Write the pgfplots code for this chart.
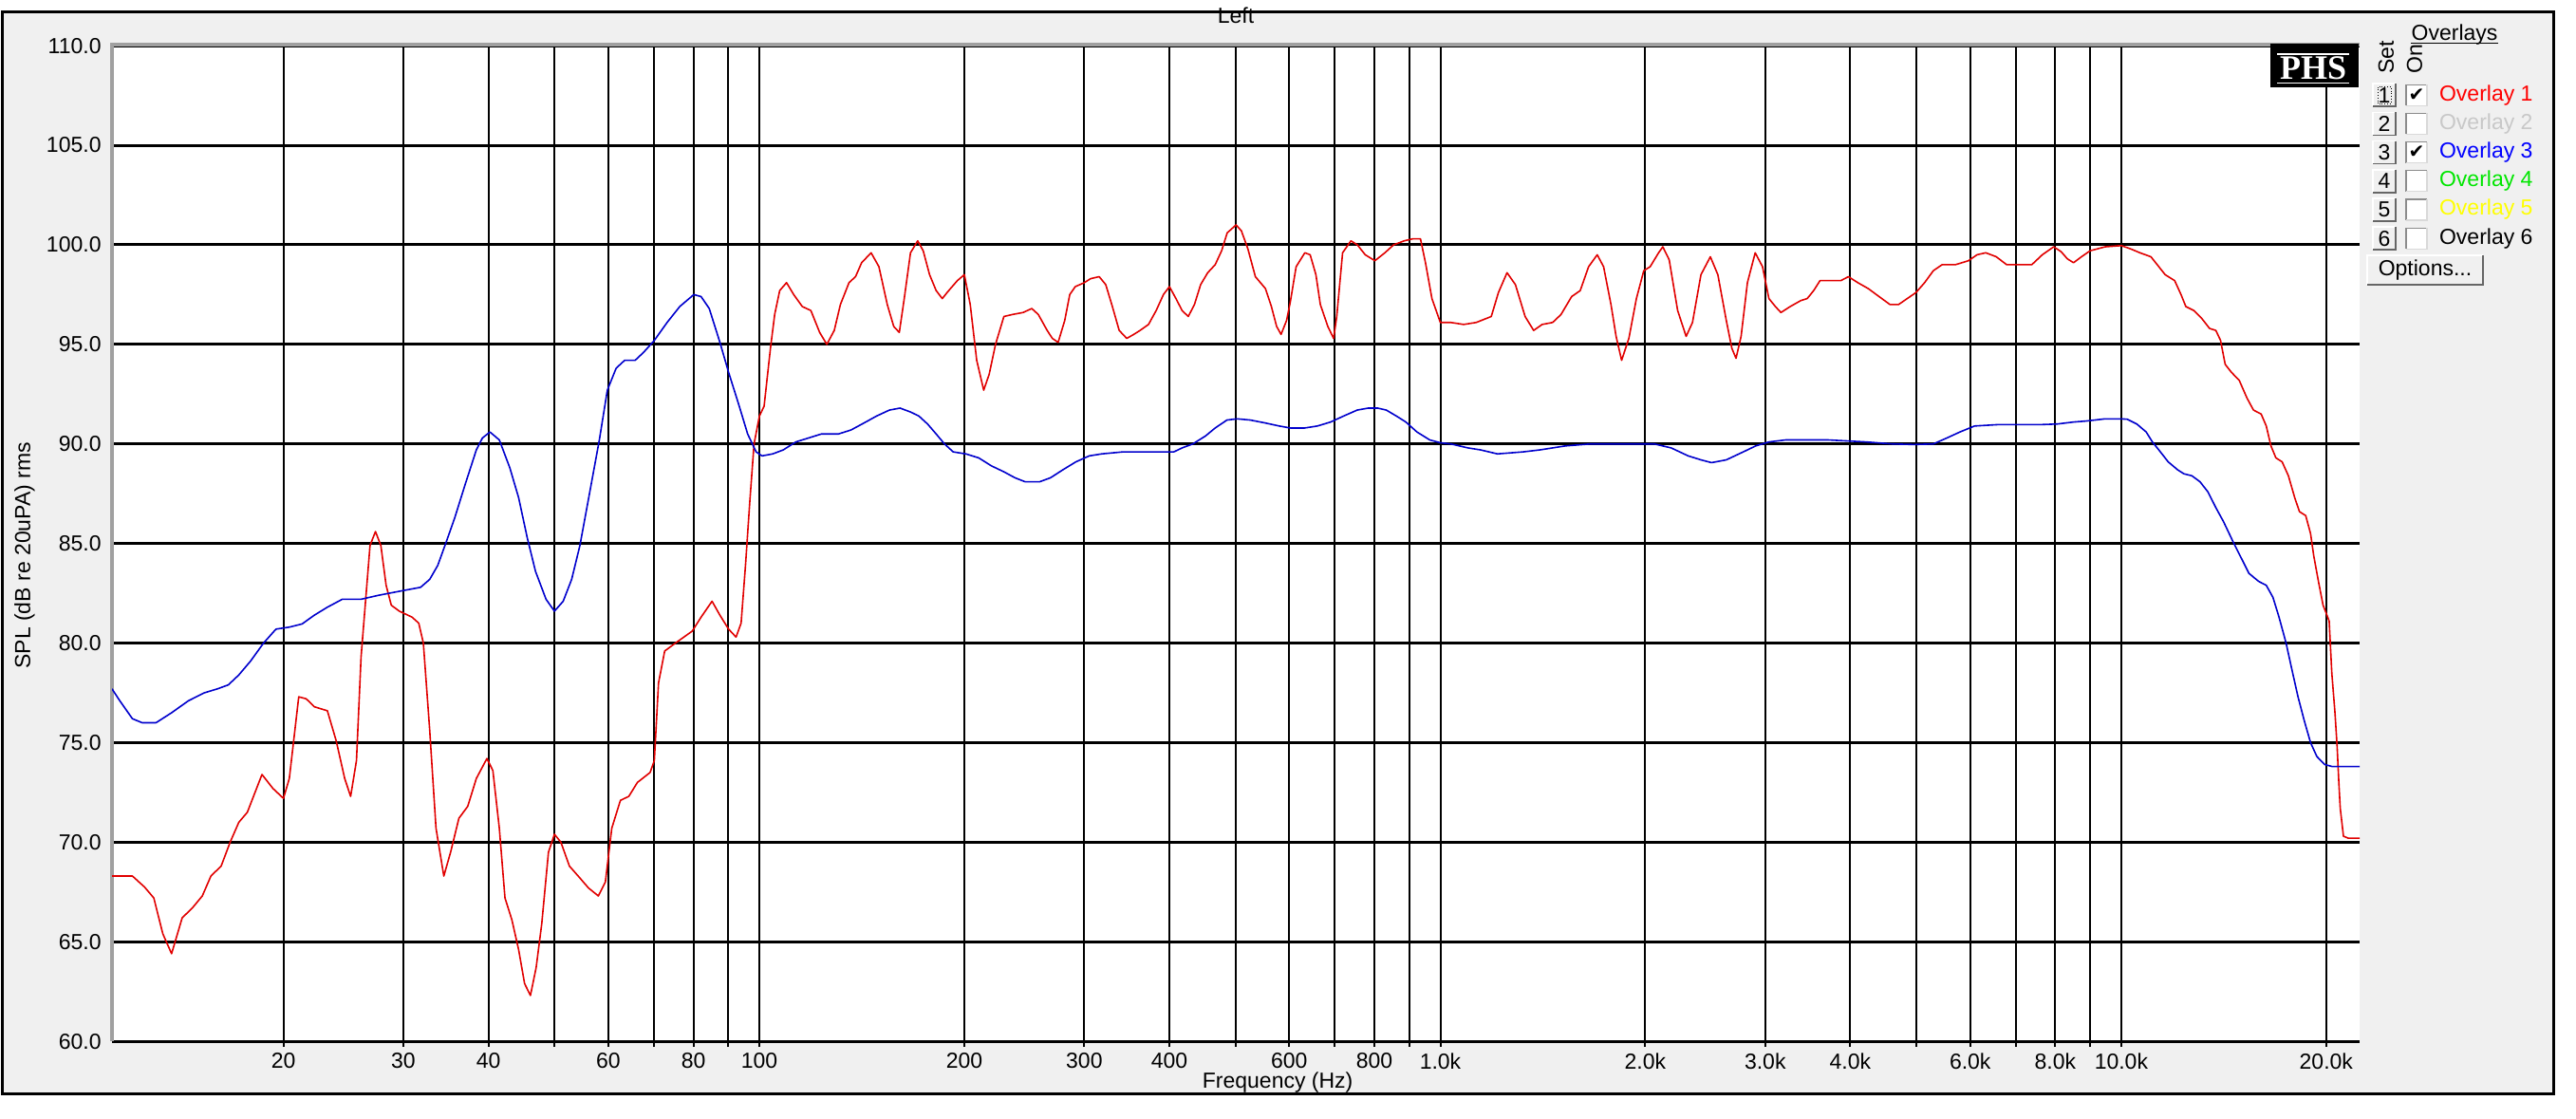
\documentclass[border=0pt]{standalone}
\usepackage{fontspec}
\setmainfont{Liberation Sans}
\newfontfamily\phsfont{Liberation Serif}
\newfontfamily\symfont{DejaVu Sans}
\usepackage{pgfplots}
\usepackage{pgfplotstable}
\pgfplotsset{compat=1.18}

\definecolor{panel}{RGB}{240,240,240}
\definecolor{ovred}{RGB}{225,0,0}
\definecolor{ovblue}{RGB}{0,0,205}
\definecolor{edgegray}{RGB}{160,160,160}
\definecolor{txtred}{RGB}{255,0,0}
\definecolor{txtgray}{RGB}{200,200,200}
\definecolor{txtblue}{RGB}{0,0,255}
\definecolor{txtgreen}{RGB}{0,230,0}
\definecolor{txtyellow}{RGB}{255,255,0}

% Overlay 1 (red)
\pgfplotstableread{
f v
11.2 68.3
12.0 68.3
12.5 67.75
12.9 67.2
13.3 65.4
13.7 64.4
14.2 66.2
14.7 66.7
15.2 67.3
15.65 68.3
16.2 68.8
16.7 70.0
17.2 71.0
17.7 71.5
18.6 73.4
19.3 72.7
20.0 72.2
20.4 73.2
21.06 77.3
21.6 77.2
22.2 76.8
23.2 76.6
23.9 75.1
24.6 73.2
25.1 72.3
25.6 74.1
26.0 79.3
26.8 84.9
27.3 85.6
27.8 84.9
28.3 82.9
28.8 81.9
29.6 81.6
30.9 81.3
31.6 81.0
32.1 80.0
32.8 75.6
33.5 70.7
34.4 68.3
35.2 69.5
36.2 71.2
37.3 71.8
38.4 73.2
39.8 74.2
40.6 73.6
41.5 70.7
42.3 67.2
43.3 66.1
44.3 64.6
45.2 62.9
46.1 62.3
47.0 63.7
47.9 65.9
49.0 69.5
50.0 70.4
51.1 70.0
52.6 68.8
54.5 68.2
56.1 67.7
58.0 67.3
59.4 68.0
60.7 70.7
62.5 72.1
64.3 72.3
66.2 73.0
69.1 73.5
70.1 74.1
71.1 78.0
72.6 79.6
75.3 80.0
79.7 80.6
82.1 81.3
85.2 82.1
87.5 81.4
90.1 80.7
92.4 80.3
94.0 81.0
95.4 83.9
96.8 87.1
98.2 90.0
100 91.4
101.6 91.9
103.8 94.8
105.3 96.5
107.1 97.7
109.6 98.1
112.3 97.5
115.6 96.9
119.0 96.7
122.6 95.6
125.6 95.0
128.8 95.7
131.5 97.0
135.4 98.1
138.4 98.4
141.3 99.1
145.9 99.6
149.8 98.9
154.1 97.0
157.5 95.9
160.5 95.6
163.2 97.3
166.7 99.6
170.8 100.2
174.0 99.7
177.8 98.5
181.8 97.7
185.6 97.3
189.7 97.7
195.3 98.2
200 98.5
204 97.0
208.5 94.2
213.5 92.7
217.5 93.5
222.2 95.0
228.6 96.4
235.3 96.5
243.9 96.6
251.2 96.8
256.8 96.5
264.6 95.7
269.3 95.3
274.6 95.1
280.8 96.2
285.6 97.5
291 97.9
300 98.1
306.5 98.3
315.5 98.4
322.6 98.0
329.9 96.9
337.6 95.7
346.3 95.3
354.6 95.5
362.3 95.7
372.8 96.0
382.6 96.7
392.1 97.5
400.1 97.9
409 97.3
417.6 96.7
426.4 96.4
435.4 97.0
444.6 98.0
455.4 98.6
467 99.0
477.3 99.7
486.4 100.6
501.2 101.0
510.3 100.7
521.6 99.8
535 98.4
553.6 97.8
564.8 96.9
574.9 95.9
583.6 95.5
594.6 96.2
601.9 97.1
614.1 98.9
632.5 99.6
643.9 99.5
656.6 98.5
666.5 97.0
683.6 95.9
697 95.3
704.5 96.4
718.6 99.6
739.1 100.2
755.3 100.0
775.8 99.5
801.5 99.2
829 99.6
854.1 100.0
885 100.2
911 100.3
935 100.3
951 99.1
972 97.3
1000 96.1
1036 96.1
1082 96.0
1129 96.1
1188 96.4
1217 97.6
1253 98.6
1289 98.0
1332 96.4
1371 95.7
1411 96.0
1462 96.1
1504 96.5
1559 97.4
1605 97.7
1651 98.9
1700 99.5
1737 98.9
1781 97.0
1812 95.4
1846 94.2
1892 95.3
1941 97.3
1990 98.7
2033 98.9
2092 99.6
2122 99.9
2168 99.25
2231 96.7
2296 95.4
2346 96.1
2414 98.5
2492 99.4
2556 98.5
2630 96.2
2680 94.8
2718 94.3
2765 95.4
2825 98.1
2900 99.6
2973 98.9
3038 97.3
3105 96.9
3164 96.6
3265 96.9
3384 97.2
3458 97.3
3534 97.7
3611 98.2
3716 98.2
3874 98.2
3975 98.4
4103 98.1
4251 97.8
4409 97.4
4575 97.0
4709 97.0
4849 97.3
4994 97.6
5143 98.1
5297 98.7
5455 99.0
5706 99.0
5964 99.2
6141 99.5
6325 99.6
6553 99.4
6789 99.0
7083 99.0
7389 99.0
7658 99.5
7958 99.9
8163 99.65
8331 99.3
8510 99.1
8742 99.4
9000 99.7
9470 99.9
10000 99.96
10315 99.8
10650 99.6
11055 99.4
11355 98.9
11600 98.5
11980 98.2
12240 97.5
12440 96.9
12780 96.7
13130 96.3
13480 95.8
13770 95.7
13990 95.2
14210 94.0
14510 93.6
14900 93.2
15300 92.3
15640 91.7
16050 91.5
16330 90.9
16590 89.9
16870 89.3
17230 89.1
17600 88.4
17980 87.3
18270 86.6
18660 86.4
18970 85.5
19170 84.4
19480 83.1
19790 81.9
20000 81.5
20200 81.1
20380 78.5
20600 76.5
20750 74.8
20870 73.0
20970 71.7
21200 70.3
21550 70.2
22400 70.2
}\overlayone

% Overlay 3 (blue)
\pgfplotstableread{
f v
11.2 77.7
11.5 77.1
12.0 76.2
12.4 76.0
13.0 76.0
13.7 76.5
14.5 77.1
15.3 77.5
16.0 77.7
16.6 77.9
17.2 78.4
17.9 79.1
18.7 80.0
19.5 80.7
20.4 80.8
21.3 80.96
22.2 81.4
23.2 81.8
24.4 82.2
26.0 82.2
27.6 82.4
29.6 82.6
31.8 82.8
32.8 83.2
33.7 83.9
34.7 85.1
35.7 86.3
37.0 88.0
38.4 89.7
39.2 90.3
40.2 90.6
41.5 90.2
43.0 88.8
44.3 87.3
45.6 85.3
46.9 83.6
48.6 82.2
50.0 81.6
51.5 82.1
53.0 83.2
54.5 84.9
56.5 87.8
58.2 90.2
59.8 92.7
61.6 93.8
63.4 94.2
65.7 94.2
67.6 94.6
70.1 95.2
73.2 96.1
76.4 96.9
80.1 97.5
82.1 97.4
84.4 96.8
87.5 95.1
90.1 93.6
93.4 91.9
96.1 90.5
98.9 89.6
100.9 89.4
104.6 89.5
108.4 89.7
113.1 90.1
118.1 90.3
123.3 90.5
130.6 90.5
136.3 90.7
142.4 91.05
148.6 91.4
155.2 91.7
160.9 91.8
166.8 91.6
171.5 91.4
176.6 91.0
181.8 90.5
187.0 90.0
192.6 89.6
201 89.5
209.9 89.3
219.1 88.9
228.6 88.6
237.3 88.3
245.6 88.1
258.0 88.1
267.6 88.3
279.0 88.7
291.6 89.1
305.1 89.4
318.2 89.5
341.9 89.6
362.3 89.6
388.9 89.6
406 89.6
417.6 89.8
433.0 90.0
452.0 90.4
467 90.8
486 91.2
503 91.26
526 91.2
553.6 91.05
580 90.9
602 90.8
632 90.8
660 90.9
690 91.1
721 91.4
755 91.7
784 91.8
809 91.8
833 91.7
862 91.4
890 91.1
924 90.6
965 90.2
1000 90.06
1036 90.0
1098 89.8
1146 89.7
1213 89.5
1322 89.6
1400 89.7
1526 89.9
1663 90.0
1812 90.0
2061 90.0
2183 89.8
2312 89.4
2414 89.2
2502 89.06
2630 89.2
2785 89.6
2905 89.9
3038 90.1
3213 90.2
3716 90.2
4221 90.1
4610 90.0
4960 89.97
5297 90.0
5546 90.3
5795 90.6
6089 90.9
6593 90.97
7083 90.97
7612 90.97
8051 91.0
8510 91.1
8880 91.15
9470 91.26
10000 91.26
10205 91.24
10540 91.0
10880 90.6
11110 90.1
11355 89.7
11720 89.1
12100 88.7
12360 88.5
12700 88.4
13050 88.1
13400 87.6
13770 86.8
14130 86.1
14590 85.1
14990 84.3
15400 83.5
15910 83.1
16330 82.9
16700 82.3
17050 81.3
17460 80.0
17800 78.7
18180 77.3
18570 76.1
18970 75.0
19380 74.3
19900 73.9
20400 73.8
22400 73.8
}\overlaythree

\begin{document}
\fontsize{11.5}{13.8}\selectfont
\begin{tikzpicture}
% page and window frame
\begin{scope}[x=1pt,y=1pt]
  \path[fill=white] (0,0) rectangle (1357,584);
  \draw[line width=1.5pt, fill=panel] (1,13) rectangle (1345,583);
\end{scope}

\begin{axis}[
  at={(59pt,40.5pt)}, anchor=south west,
  scale only axis, width=1184pt, height=524.5pt,
  xmode=log, xmin=11.2, xmax=22400,
  ymin=60, ymax=110,
  axis background/.style={fill=white},
  axis x line*=bottom, axis y line*=left,
  axis line style={-},
  x axis line style={black, line width=1.5pt},
  y axis line style={edgegray, line width=2pt},
  tick align=outside,
  xtick={20,30,40,50,60,70,80,90,100,200,300,400,500,600,700,800,900,
         1000,2000,3000,4000,5000,6000,7000,8000,9000,10000,20000},
  xticklabels={20,30,40,{},60,{},80,{},100,200,300,400,{},600,{},800,{},
         1.0k,2.0k,3.0k,4.0k,{},6.0k,{},8.0k,{},10.0k,20.0k},
  minor xtick={},
  ytick={60,65,...,110},
  yticklabels={60.0,65.0,70.0,75.0,80.0,85.0,90.0,95.0,100.0,105.0,110.0},
  xtick style={black, line width=1pt},
  major tick length=3pt,
  ytick style={draw=none},
  xticklabel style={yshift=0.9pt},
  yticklabel style={xshift=1.3pt},
  grid=major,
  major x grid style={black, line width=1pt},
  major y grid style={black, line width=1.5pt},
  title={Left},
  title style={at={(0.5,1.0191)}, anchor=center},
  xlabel={Frequency (Hz)},
  xlabel style={at={(0.5186,-0.041)}, anchor=center},
  ylabel={SPL (dB re 20uPA) rms},
  ylabel style={at={(-0.03885,0.488)}, anchor=center},
]
\addplot[ovred, line width=0.8pt, line join=round] table[x=f, y=v] {\overlayone};
\addplot[ovblue, line width=0.8pt, line join=round] table[x=f, y=v] {\overlaythree};
\end{axis}

\begin{scope}[x=1pt,y=1pt]
  % top edge of the plot area
  \draw[edgegray, line width=2pt] (58,565.75) -- (1243,565.75);
  % logo
  \fill[black] (1196,543) rectangle (1242.5,566);
  \node[white, font=\phsfont\bfseries\fontsize{18}{18}\selectfont] at (1218.5,553) {PHS};
  \draw[white, line width=0.8pt] (1199.5,560.5) -- (1237.5,560.5);
  \draw[white, line width=0.8pt] (1199.5,545.3) -- (1237.5,545.3);

  % overlay panel
  \node at (1293,571) {Overlays};
  \draw[line width=0.6pt] (1270,566.5) -- (1316,566.5);
  \node[rotate=90, anchor=west, inner sep=0pt] at (1257,550) {Set};
  \node[rotate=90, anchor=west, inner sep=0pt] at (1272,550) {On};
  \foreach \i/\c/\on in {0/txtred/1,1/txtgray/0,2/txtblue/1,3/txtgreen/0,4/txtyellow/0,5/black/0} {
    \pgfmathsetmacro\yy{539-15.1*\i}
    \pgfmathtruncatemacro\n{\i+1}
    \fill[panel] (1250,\yy-6) rectangle (1262,\yy+6);
    \draw[white, line width=0.8pt] (1250,\yy-6) -- (1250,\yy+6) -- (1262,\yy+6);
    \draw[black!60, line width=0.8pt] (1262,\yy+6) -- (1262,\yy-6) -- (1250,\yy-6);
    \node at (1256,\yy) {\n};
    \fill[white] (1267.5,\yy-5.5) rectangle (1278.5,\yy+5.5);
    \draw[black!45, line width=0.6pt] (1267.5,\yy-5.5) -- (1267.5,\yy+5.5) -- (1278.5,\yy+5.5);
    \draw[black!15, line width=0.6pt] (1278.5,\yy+5.5) -- (1278.5,\yy-5.5) -- (1267.5,\yy-5.5);
    \ifnum\on=1
      \node[font=\symfont\fontsize{10}{10}\selectfont, inner sep=0pt] at (1273,\yy) {✔};
    \fi
    \node[\c, anchor=west] at (1281,\yy) {Overlay \n};
  }
  \draw[densely dotted, line width=0.4pt] (1252.5,534.5) rectangle (1259.5,543.5);
  % options button
  \fill[panel] (1247,439) rectangle (1308,454.5);
  \draw[white, line width=0.8pt] (1247,439) -- (1247,454.5) -- (1308,454.5);
  \draw[black!60, line width=0.8pt] (1308,454.5) -- (1308,439) -- (1247,439);
  \node at (1277.5,446.75) {Options...};
\end{scope}
\end{tikzpicture}
\end{document}
